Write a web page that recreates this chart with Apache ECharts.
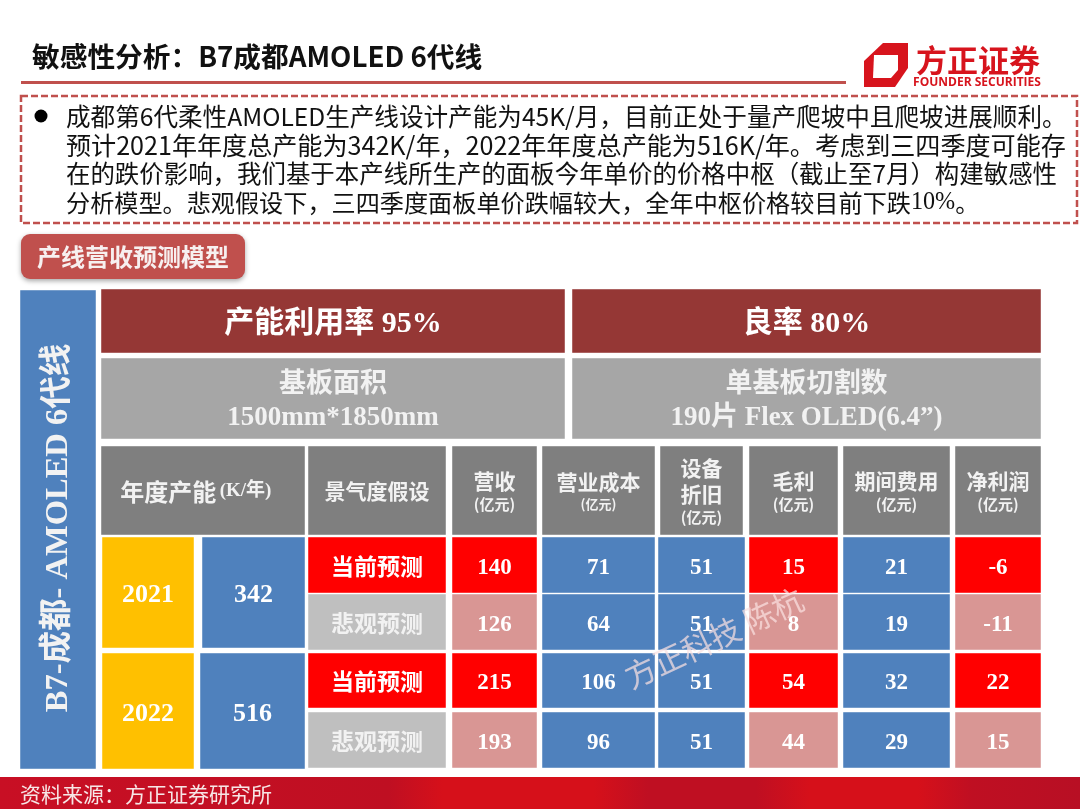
<!DOCTYPE html>
<html lang="zh">
<head>
    <meta charset="UTF-8">
    <title>敏感性分析：B7成都AMOLED 6代线</title>
    <script src="https://cdn.jsdelivr.net/npm/echarts@6/dist/echarts.min.js"></script>
    <style>
        html, body { margin: 0; padding: 0; background: #fff; }
    </style>
</head>
<body>
    <div id="slide" style="width:1080px;height:810px;"></div>

    <script>
        // 表格数据
        var years = ['2021', '2022'];
        var capacity = [342, 516];
        var scenarios = ['当前预测', '悲观预测', '当前预测', '悲观预测'];
        var revenue = [140, 126, 215, 193];
        var cost = [71, 64, 106, 96];
        var depreciation = [51, 51, 51, 51];
        var grossProfit = [15, 8, 54, 44];
        var expense = [21, 19, 32, 29];
        var netProfit = [-6, -11, 22, 15];

        var headers = [
            '{h|年度产能} {k|(K/年)}{k|   }',
            '{m|景气度假设}',
            '{m|营收}\n{u|(亿元)}',
            '{m|营业成本}\n{w|(亿元)}',
            '{m|设备}\n{m|折旧}\n{u|(亿元)}',
            '{m|毛利}\n{u|(亿元)}',
            '{m|期间费用}\n{u|(亿元)}',
            '{m|净利润}\n{u|(亿元)}'
        ];

        var paragraph = [
            '成都第6代柔性AMOLED生产线设计产能为45K/月，目前正处于量产爬坡中且爬坡进展顺利。',
            '预计2021年年度总产能为342K/年，2022年年度总产能为516K/年。考虑到三四季度可能存',
            '在的跌价影响，我们基于本产线所生产的面板今年单价的价格中枢（截止至7月）构建敏感性',
            '分析模型。悲观假设下，三四季度面板单价跌幅较大，全年中枢价格较目前下跌'
        ];
        var paragraphSize = [24.6, 25.1, 24.45, 24.15];
        var paragraphY = [117, 145, 174, 203];

        // 版面位置
        var headerX = [[101, 305], [308, 446], [452, 537], [542, 655], [660, 743], [749, 838], [843, 950], [955, 1041]];
        var headerY = [446, 535];
        var rowY = [[537, 593], [594, 650], [653, 708], [712, 768]];
        var sceneX = [308, 446];
        var bodyX = [[452, 537], [542, 655], [658, 745], [749, 838], [843, 950], [955, 1041]];

        var CN = '"Noto Sans CJK SC"';
        var MIX = '"Liberation Serif","Noto Sans CJK SC"';
        var BLUE = '#4f81bd', RED = '#ff0000', PINK = '#d99694', DARK = '#953735',
            GREY = '#a6a6a6', HEAD = '#7f7f7f', SOFT = '#bfbfbf', GOLD = '#ffc000';
        var PALE = '#f2f2f2';

        // zrender 的富文本用 fill 而不是 color
        var rich = {
            h: { fontFamily: CN, fontWeight: 'bold', fontSize: 24, fill: PALE },
            k: { fontFamily: MIX, fontWeight: 'bold', fontSize: 19, fill: PALE },
            m: { fontFamily: CN, fontWeight: 'bold', fontSize: 21, fill: PALE, lineHeight: 26 },
            u: { fontFamily: CN, fontWeight: 'bold', fontSize: 15, fill: PALE, lineHeight: 21 },
            w: { fontFamily: CN, fontWeight: 'bold', fontSize: 13, fill: PALE, lineHeight: 19 },
            n: { fontFamily: MIX, fontWeight: 'bold', fontSize: 23, fill: '#fff' },
            y: { fontFamily: MIX, fontWeight: 'bold', fontSize: 26, fill: '#fff' },
            s: { fontFamily: CN, fontWeight: 'bold', fontSize: 23, fill: '#fff' },
            p: { fontFamily: CN, fontWeight: 'bold', fontSize: 23, fill: PALE },
            big: { fontFamily: MIX, fontWeight: 'bold', fontSize: 30, fill: '#fff' },
            mid: { fontFamily: MIX, fontWeight: 'bold', fontSize: 27, fill: PALE, lineHeight: 33 }
        };

        // 衬线数字看起来偏上，往下挪一点
        function textShift(text) {
            if (/^\{(n|y|big|mid)\|/.test(text)) return 3;
            return 1;
        }

        // 单元格：[x0, y0, x1, y1] 由上面的版面位置得到
        var cells = [];
        function addCell(x, y, fill, text) {
            cells.push({ value: [x[0], y[0], x[1], y[1]], fill: fill, text: text });
        }

        addCell([20, 96], [290, 769], BLUE, '');
        addCell([101, 565], [289, 353], DARK, '{big|产能利用率 95%}');
        addCell([572, 1041], [289, 353], DARK, '{big|良率 80%}');
        addCell([101, 565], [358, 439], GREY, '{mid|基板面积}\n{mid|1500mm*1850mm}');
        addCell([572, 1041], [358, 439], GREY, '{mid|单基板切割数}\n{mid|190片 Flex OLED(6.4”)}');

        headers.forEach(function (h, i) {
            addCell(headerX[i], headerY, HEAD, h);
        });

        addCell([102, 194], [537, 648], GOLD, '{y|' + years[0] + '}');
        addCell([202, 305], [537, 648], BLUE, '{y|' + capacity[0] + '}');
        addCell([102, 194], [653, 769], GOLD, '{y|' + years[1] + '}');
        addCell([200, 305], [653, 769], BLUE, '{y|' + capacity[1] + '}');

        // 当前预测为红色，悲观预测为浅色
        scenarios.forEach(function (s, r) {
            var current = r % 2 === 0;
            addCell(sceneX, rowY[r], current ? RED : SOFT, (current ? '{s|' : '{p|') + s + '}');
            [revenue, cost, depreciation, grossProfit, expense, netProfit].forEach(function (col, c) {
                var fill = BLUE;
                if (c === 0 || c === 3 || c === 5) {
                    fill = current ? RED : PINK;
                }
                addCell(bodyX[c], rowY[r], fill, '{n|' + col[r] + '}');
            });
        });

        function renderCell(params, api) {
            var cell = cells[params.dataIndex];
            var a = api.coord([api.value(0), api.value(1)]);
            var b = api.coord([api.value(2), api.value(3)]);
            return {
                type: 'group',
                children: [{
                    type: 'rect',
                    shape: { x: a[0], y: a[1], width: b[0] - a[0], height: b[1] - a[1] },
                    style: { fill: cell.fill, stroke: 'rgba(255,255,255,0.45)', lineWidth: 1 }
                }, {
                    type: 'text',
                    style: {
                        x: (a[0] + b[0]) / 2,
                        y: (a[1] + b[1]) / 2 + textShift(cell.text),
                        text: cell.text,
                        rich: rich,
                        align: 'center',
                        verticalAlign: 'middle'
                    }
                }]
            };
        }

        var slideGraphics = [
            { type: 'text', x: 32, y: 56, style: { text: '敏感性分析：B7成都AMOLED 6代线', font: 'bold 27.7px "Noto Sans CJK SC"', fill: '#111', verticalAlign: 'middle' } },
            { type: 'rect', shape: { x: 21, y: 81, width: 825, height: 3 }, style: { fill: '#c0504d' } },
            // 方正证券标志
            { type: 'polygon', shape: { points: [[864, 61], [883, 43], [908, 43], [908, 68], [895, 87], [864, 87]] }, style: { fill: '#d7141d' } },
            { type: 'polygon', shape: { points: [[874, 55], [898, 55], [898, 70], [891, 78], [873, 78]] }, style: { fill: '#fff' } },
            { type: 'text', x: 978, y: 60, style: { text: '方正证券', font: 'bold 31px "Noto Sans CJK SC"', fill: '#d7141d', align: 'center', verticalAlign: 'middle' } },
            { type: 'text', x: 977, y: 83, style: { text: 'FOUNDER SECURITIES', font: 'bold 12px "Open Sans"', fill: '#d7141d', align: 'center', verticalAlign: 'middle' } },
            // 说明框
            { type: 'rect', shape: { x: 21, y: 96, width: 1056, height: 127 }, style: { fill: 'none', stroke: '#c0504d', lineWidth: 2.5, lineDash: [7, 3] } },
            { type: 'circle', shape: { cx: 41, cy: 116, r: 6.5 }, style: { fill: '#000' } }
        ];

        paragraph.forEach(function (line, i) {
            var size = paragraphSize[i];
            var text = '{t|' + line + '}';
            if (i === 3) {
                text += '{e|10%}{t|。}';
            }
            slideGraphics.push({
                type: 'text', x: 66, y: paragraphY[i],
                style: {
                    text: text,
                    verticalAlign: 'middle',
                    rich: {
                        t: { fontFamily: CN, fontSize: size, fill: '#111' },
                        e: { fontFamily: '"Liberation Serif"', fontSize: size, fill: '#111' }
                    }
                }
            });
        });

        slideGraphics.push(
            // 小标题
            {
                type: 'rect', shape: { x: 21, y: 234, width: 224, height: 45, r: 9 },
                style: { fill: '#c0504d', shadowBlur: 5, shadowColor: 'rgba(0,0,0,0.35)', shadowOffsetY: 2 }
            },
            { type: 'text', x: 133, y: 257, style: { text: '产线营收预测模型', font: 'bold 24px "Noto Sans CJK SC"', fill: '#f7f0f0', align: 'center', verticalAlign: 'middle' } },
            // 底部色带
            {
                type: 'rect', shape: { x: 0, y: 777, width: 1080, height: 32 },
                style: {
                    fill: new echarts.graphic.LinearGradient(0, 0, 1, 0, [
                        { offset: 0, color: '#c80f24' }, { offset: 0.36, color: '#bf0f22' },
                        { offset: 0.41, color: '#d6101a' }, { offset: 0.55, color: '#d6101a' },
                        { offset: 0.6, color: '#bf0f22' }, { offset: 0.7, color: '#bf0f22' },
                        { offset: 0.75, color: '#d6101a' }, { offset: 0.85, color: '#d6101a' },
                        { offset: 0.9, color: '#bf0f22' }, { offset: 1, color: '#b80f24' }
                    ])
                }
            },
            { type: 'text', x: 20, y: 794, style: { text: '资料来源：方正证券研究所', font: '21px "Noto Sans CJK SC"', fill: '#f7e6e6', verticalAlign: 'middle' } },
            // 竖排标题和水印
            {
                type: 'text', x: 59, y: 528, rotation: Math.PI / 2, z: 100,
                style: { text: 'B7-成都- AMOLED 6代线', font: 'bold 32.5px "Liberation Serif","Noto Sans CJK SC"', fill: PALE, align: 'center', verticalAlign: 'middle' }
            },
            {
                type: 'text', x: 714, y: 638, rotation: 25 * Math.PI / 180, z: 100,
                style: { text: '方正科技 陈杭', font: '31px "Noto Sans CJK SC"', fill: 'rgba(250,225,225,0.72)', align: 'center', verticalAlign: 'middle' }
            }
        );

        var myChart = echarts.init(document.getElementById('slide'));
        var option = {
            animation: false,
            backgroundColor: '#fff',
            grid: { left: 0, right: 0, top: 0, bottom: 0 },
            xAxis: { type: 'value', min: 0, max: 1080, show: false },
            yAxis: { type: 'value', min: 0, max: 810, inverse: true, show: false },
            graphic: slideGraphics,
            series: [{
                type: 'custom',
                renderItem: renderCell,
                encode: { x: [0, 2], y: [1, 3] },
                data: cells,
                silent: true,
                z: 2
            }]
        };
        myChart.setOption(option);
    </script>
</body>
</html>
